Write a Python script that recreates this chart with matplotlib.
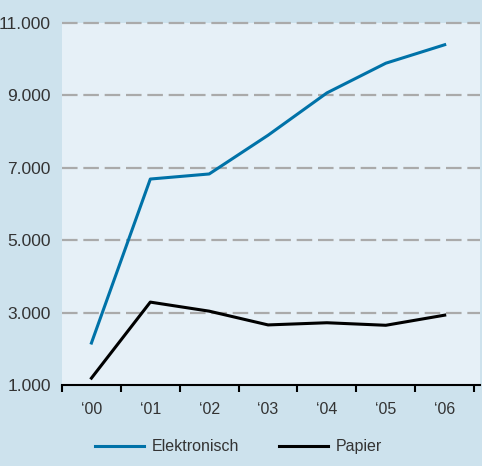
import matplotlib.pyplot as plt
from matplotlib.ticker import FixedLocator

# data
years = ["\u201800", "\u201801", "\u201802", "\u201803", "\u201804", "\u201805", "\u201806"]
elektronisch = [2160, 6690, 6830, 7900, 9070, 9890, 10400]
papier = [1190, 3290, 3040, 2660, 2720, 2650, 2930]
y_ticks = [1000, 3000, 5000, 7000, 9000, 11000]
y_labels = ["1.000", "3.000", "5.000", "7.000", "9.000", "11.000"]

plt.rcParams['font.family'] = ['Liberation Sans', 'DejaVu Sans']

fig = plt.figure(figsize=(4.82, 4.66), dpi=100)
fig.patch.set_facecolor('#cde2ed')
ax = fig.add_axes([0.1286, 0.1738, 0.8673, 0.7768])
ax.set_facecolor('#e6f0f7')

xs = [i + 0.5 for i in range(len(years))]
ax.plot(xs, elektronisch, color='#0072a8', lw=2.2, label='Elektronisch', zorder=3)
ax.plot(xs, papier, color='#000000', lw=2.2, label='Papier', zorder=3)

ax.set_xlim(0, 7.1)
ax.set_ylim(1000, 11000)

# gridlines
for v in y_ticks[1:]:
    ax.axhline(v, color='#aaaaaa', lw=1.6, linestyle=(0, (7.0, 2.6)), zorder=1, clip_on=False)

ax.set_yticks(y_ticks)
ax.set_yticklabels(y_labels)
ax.tick_params(axis='y', length=0, pad=8, labelsize=12.5, labelcolor='#333333')

ax.xaxis.set_major_locator(FixedLocator(range(0, 8)))
ax.xaxis.set_minor_locator(FixedLocator(xs))
ax.set_xticklabels([""] * 8)
ax.set_xticks(xs, minor=True)
ax.set_xticklabels(years, minor=True)
ax.tick_params(axis='x', which='major', length=5, width=1.5, color='black', direction='out')
ax.tick_params(axis='x', which='minor', length=0, pad=12, labelsize=11.5, labelcolor='#333333')

for s in ['top', 'right', 'left']:
    ax.spines[s].set_visible(False)
ax.spines['bottom'].set_linewidth(1.5)
ax.spines['bottom'].set_color('black')

leg = fig.legend(loc='center', bbox_to_anchor=(0.494, 0.041), ncol=2, frameon=False,
                 fontsize=11.5, handlelength=3.1, columnspacing=2.5, handletextpad=0.45)
for t in leg.get_texts():
    t.set_color('#333333')

fig.savefig('out.png', dpi=100, facecolor=fig.get_facecolor())
